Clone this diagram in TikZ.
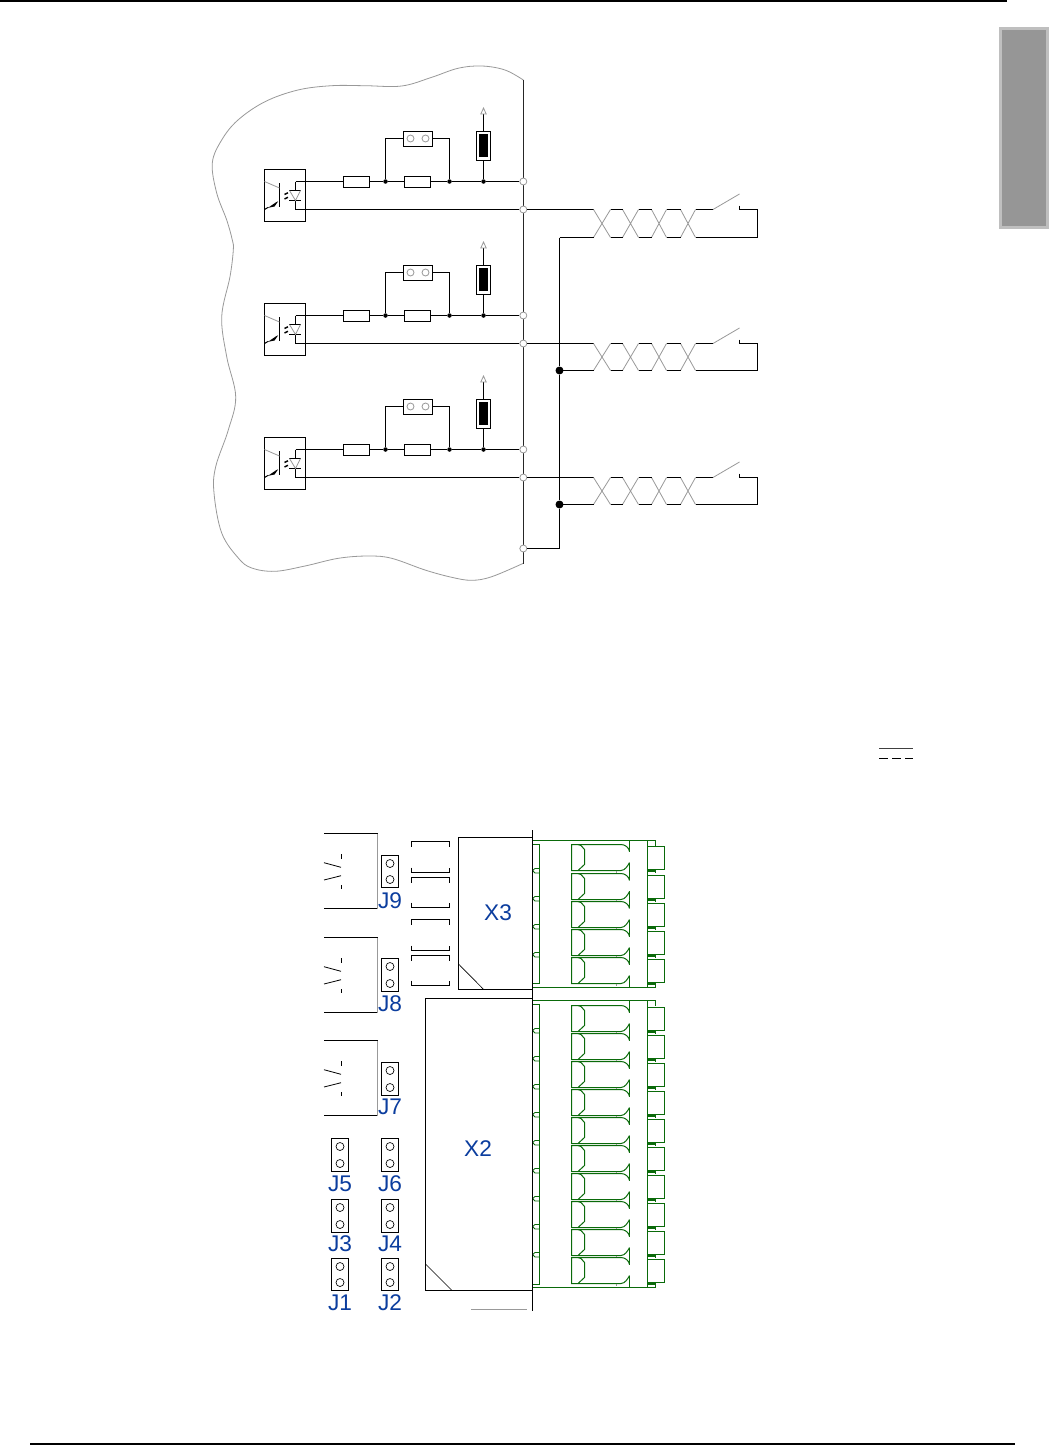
\documentclass[tikz,border=0pt]{standalone}
\usepackage{fontspec}
\setmainfont{Liberation Sans}
\definecolor{grn}{HTML}{0A6A0A}
\definecolor{lbl}{HTML}{0B3D9E}
\definecolor{gry}{HTML}{999999}
\definecolor{tabo}{HTML}{BFBFBF}
\definecolor{tabi}{HTML}{969696}
\def\px{.75pt}
\tikzset{
  wirek/.style={black,line width=.75pt},
  thing/.style={gry,line width=.6pt},
  grnl/.style={grn,line width=.75pt},
  boxn/.style={draw=black,line width=.75pt,fill=white,inner sep=0pt,outer sep=0pt},
  termn/.style={circle,draw=gry,line width=.6pt,fill=white,inner sep=0pt,minimum size=7*\px},
  pinn/.style={circle,draw=black,line width=.5pt,fill=white,inner sep=0pt,minimum size=8*\px},
  pint/.style={circle,draw=gry,line width=.6pt,fill=white,inner sep=0pt,minimum size=7*\px},
  jdot/.style={circle,fill=black,inner sep=0pt,minimum size=4.5*\px},
  bdot/.style={circle,fill=black,inner sep=0pt,minimum size=8*\px},
  lab/.style={text=lbl,inner sep=0pt,font=\fontsize{17}{18}\selectfont},
}
\newcommand{\CircUnit}[2]{%
\begin{scope}[shift={(0,#2)}]
  \node[boxn,minimum width=41*\px,minimum height=52*\px] (#1opto) at (285,195.5) {};
  \node[boxn,minimum width=26*\px,minimum height=11*\px] (#1ra) at (356.5,182) {};
  \node[boxn,minimum width=26*\px,minimum height=11*\px] (#1rb) at (417.5,182) {};
  \node[boxn,minimum width=29*\px,minimum height=15*\px] (#1link) at (418,139) {};
  \node[pint] (#1la) at (410.5,138.5) {};
  \node[pint] (#1lb) at (425.5,138.5) {};
  \node[boxn,minimum width=14*\px,minimum height=29*\px] (#1fo) at (483.5,146) {};
  \node[fill=black,inner sep=0pt,minimum width=8.5*\px,minimum height=22.5*\px] (#1fi) at (483.5,145.5) {};
  \node[jdot] (#1ja) at (385.5,181.5) {};
  \node[jdot] (#1jb) at (449.5,181.5) {};
  \node[jdot] (#1jc) at (483.5,181.5) {};
  \node[termn] (#1ta) at (523.3,181.5) {};
  \node[termn] (#1tb) at (523.3,209.5) {};
  \coordinate (#1dt) at (295.5,181.5);
  \coordinate (#1db) at (295.5,209.5);
  \coordinate (#1ca) at (385.5,138.5);
  \coordinate (#1cb) at (449.5,138.5);
  \coordinate (#1arr) at (483.5,114);
  \draw[wirek] (#1dt) -- (#1ra.west |- #1dt) (#1ra.east |- #1dt) -- (#1ja) -- (#1rb.west |- #1dt) (#1rb.east |- #1dt) -- (#1jb) -- (#1jc) -- (#1ta);
  \draw[wirek] (#1ja) -- (#1ca) -- (#1link.west |- #1ca) (#1link.east |- #1ca) -- (#1cb) -- (#1jb);
  \draw[wirek] (#1jc) -- (#1fo) (#1fo) -- (#1arr);
  \draw[wirek] (#1db) -- (#1tb);
  % opto-coupler
  \draw[wirek] (#1dt) -- (295.5,190.5) (#1db) -- (295.5,200.5);
  \draw[wirek] (289,190.5) -- (300.5,190.5) (289,200.5) -- (300.5,200.5);
  \draw[thing] (289.5,190.5) -- (295.5,200.5) -- (300.5,190.5);
  \draw[wirek] (279.5,183) -- (279.5,207);
  \draw[thing] (264.5,181.5) -- (279.5,188);
  \draw[wirek] (264.5,209.5) -- (268.3,207.3);
  \fill[black] (268,207.8) -- (276,202.3) -- (278.2,201.3) -- (274.5,206.5) -- cycle;
  \draw[black,line width=1.1pt] (284.5,194.5) -- (288,192.8) (284.5,199) -- (288,197.3);
  \draw[thing] (483.5,108) -- (480.8,114) -- (486.2,114) -- cycle;
\end{scope}}
\newcommand{\TwistPair}[3]{% name, y shift, lower wire y
\begin{scope}[shift={(0,#2)}]
  \coordinate (#1tl) at (593.5,209.5);
  \coordinate (#1bl) at (593.5,#3);
  \draw[wirek] (#1tb) -- (#1tl);
  \foreach \a/\b in {593.5/610.5,622.5/638.5,651.5/666.5,680.5/695.5}{
    \draw[thing] (\a,209.5) -- (\b,#3) (\a,#3) -- (\b,209.5);}
  \foreach \a/\b in {610.5/622.5,638.5/651.5,666.5/680.5}{
    \draw[wirek] (\a,209.5) -- (\b,209.5) (\a,#3) -- (\b,#3);}
  \coordinate (#1sw) at (713,209.5);
  \coordinate (#1st) at (739.5,194);
  \coordinate (#1ca2) at (739.5,205.5);
  \coordinate (#1cb2) at (739.5,209.5);
  \coordinate (#1cc) at (757.5,209.5);
  \coordinate (#1cd) at (757.5,#3);
  \coordinate (#1ce) at (695.5,#3);
  \coordinate (#1gnd) at (559.5,#3);
  \draw[wirek] (695.5,209.5) -- (#1sw);
  \draw[thing] (#1sw) -- (#1st);
  \draw[wirek] (#1ca2) -- (#1cb2) -- (#1cc) -- (#1cd) -- (#1ce);
  \draw[wirek] (#1gnd) -- (#1bl);
\end{scope}}
\newcommand{\RelayBlock}[1]{%
\begin{scope}[shift={(0,#1)}]
  \draw[wirek] (324,833.5) -- (377.5,833.5);
  \draw[wirek] (324,908.5) -- (377.5,908.5);
  \draw[thing,line width=.75pt] (377.5,833.5) -- (377.5,908.5);
  \draw[wirek,line width=.6pt] (341.5,854) -- (341.5,859) (341.5,885) -- (341.5,889);
  \draw[wirek,line width=.6pt] (324,862.7) -- (341,867.3) (324,880) -- (341,875.7);
\end{scope}}
\newcommand{\Jump}[6]{% name, x centre, y top, y bottom, label y, text
  \node[boxn,minimum width=17*\px,minimum height={(#4-#3)*\px}] (#1) at (#2,{(#3+#4)/2}) {};
  \node[pinn] (#1a) at (#2,{#3+8}) {};
  \node[pinn] (#1b) at (#2,{#4-8}) {};
  \node[lab] (#1t) at (#2,#5) {#6};}
\newcommand{\Bracket}[2]{% y, tick direction
  \draw[wirek] (411.5,#1+#2) -- (411.5,#1) -- (449.5,#1) -- (449.5,#1+#2);}
\newcommand{\GreenPin}[1]{%
  \draw[grnl] (621,#1) -- (571.5,#1) -- (571.5,#1+26) -- (621,#1+26) .. controls (625,#1+26) and (628,#1+21) .. (629.5,#1+18);
  \draw[grnl] (621,#1) .. controls (625,#1) and (629,#1+3) .. (629.5,#1+7);
  \draw[grnl] (578,#1) -- (581,#1+1) -- (584.5,#1+5) -- (584.5,#1+20) -- (578,#1+26);
  \draw[grnl] (647.5,#1+2) rectangle (664.5,#1+25);
  \draw[grnl,line width=1.3pt] (647.5,#1+26.5) -- (655.5,#1+26.5);
  \draw[grnl] (655.5,#1+25) -- (655.5,#1+28);
  \draw[thing] (616.5,#1+26) -- (616.5,#1+28);}
\newcommand{\GreenFlag}[1]{%
  \draw[grnl,line width=.6pt] (539.5,#1-3) -- (535,#1-3) -- (532.6,#1-1) -- (535,#1+1.5) -- (539.5,#1+1.5);}
\begin{document}
\begin{tikzpicture}[x=.75pt,y=-.75pt]
\useasboundingbox (0,0) rectangle (1049,1445);
\fill[white] (0,0) rectangle (1049,1445);
% page furniture
\draw[black,line width=2.2pt] (0,1) -- (1007,1);
\draw[black,line width=1.5pt] (30,1443.5) -- (1015,1443.5);
\fill[tabo] (999,27) rectangle (1049,229);
\fill[tabi] (1002,30) rectangle (1046,226);
% outline
\draw[gry,line width=.6pt] plot[smooth,tension=.6] coordinates {(523.3,80) (505,70) (481.7,66) (458,68.3) (431.7,77.3) (401.7,86) (365,85.7) (331.7,85.7) (298,90) (265,101.7) (238,120) (221.7,140) (212.3,163) (216.7,193) (226.7,220) (232.3,240) (233.3,250) (230,276.7) (221.7,316.7) (226.7,356.7) (235.7,396.7) (228.3,430) (215.7,466.7) (214,493) (221.7,533) (238.3,558) (251.7,568) (275,571.3) (305,566) (338.3,558.3) (368.3,556) (391.7,558.3) (425,570) (451.7,577.3) (471.7,580.3) (491.7,576.7) (523.3,563.3)};
% bus
\coordinate (bustop) at (523.5,80);
\coordinate (busbot) at (523.5,563.5);
\draw[black!85,line width=.75pt] (bustop) -- (busbot);
\CircUnit{a}{0}
\CircUnit{b}{134}
\CircUnit{c}{268}
\node[termn] (rtn) at (523.3,548.5) {};
\TwistPair{a}{0}{237.5}
\TwistPair{b}{134}{236.5}
\TwistPair{c}{268}{236.5}
\node[bdot] (db) at (559.5,370.5) {};
\node[bdot] (dc) at (559.5,504.5) {};
\coordinate (rc) at (559.5,548.5);
\draw[wirek] (agnd) -- (db) -- (dc) -- (rc) -- (rtn);
% DC symbol
\draw[black!75,line width=.9pt] (879.3,748.7) -- (913.3,748.7);
\foreach \a/\b in {879.3/888,892/901,905/913.3}{\draw[black,line width=.9pt] (\a,758.2) -- (\b,758.2);}
% lower board
\RelayBlock{0}
\RelayBlock{104}
\RelayBlock{207}
\Jump{jn}{390}{855.5}{887.5}{900.5}{J9}
\Jump{je}{390}{958.5}{991.5}{1003.5}{J8}
\Jump{js}{390}{1062.5}{1095.5}{1106.5}{J7}
\Jump{jf}{340}{1138.5}{1171.5}{1183.5}{J5}
\Jump{jx}{390}{1138.5}{1171.5}{1183.5}{J6}
\Jump{jt}{340}{1199.5}{1232.5}{1243.5}{J3}
\Jump{jq}{390}{1199.5}{1232.5}{1243.5}{J4}
\Jump{jo}{340}{1258.5}{1290.5}{1302.5}{J1}
\Jump{jw}{390}{1258.5}{1290.5}{1302.5}{J2}
\Bracket{841.5}{5}
\Bracket{872.5}{-5}
\Bracket{877.5}{5}
\Bracket{907.5}{-5}
\Bracket{919.5}{5}
\Bracket{950.5}{-5}
\Bracket{955.5}{5}
\Bracket{985.5}{-5}
% green connectors
\foreach \y in {844.5,873.5,901.5,929.5,957.5}{\GreenPin{\y}}
\foreach \y in {1005.5,1033.5,1061.5,1089.5,1117.5,1145.5,1173.5,1201.5,1229.5,1257.5}{\GreenPin{\y}}
\foreach \y in {871.5,899.5,927.5,955.5}{\GreenFlag{\y}}
\foreach \y in {1031.5,1059.5,1087.5,1115.5,1143.5,1171.5,1199.5,1227.5,1255.5}{\GreenFlag{\y}}
\foreach \y in {863,891,919.5,947.5}{\draw[grnl] (629.5,\y) -- (629.5,\y+17);}
\draw[grnl] (629.5,975.5) -- (629.5,987.5);
\foreach \y in {1023.5,1051.5,1079.5,1107.5,1135.5,1163.5,1191.5,1219.5,1247.5}{\draw[grnl] (629.5,\y) -- (629.5,\y+17);}
\draw[grnl] (629.5,1275.5) -- (629.5,1287.5);
\draw[grnl] (629.5,840.5) -- (629.5,851.5);
\draw[grnl] (629.5,1000.5) -- (629.5,1012.5);
\draw[grnl] (532.6,844.5) -- (539.5,844.5) -- (539.5,983.5) -- (532.6,983.5);
\draw[grnl] (532.6,1004.5) -- (539.5,1004.5) -- (539.5,1284.5) -- (532.6,1284.5);
\draw[grnl] (532.6,840.5) -- (655.5,840.5) -- (655.5,845.5);
\draw[grnl] (532.6,987.5) -- (655.5,987.5) -- (655.5,982.5);
\draw[grnl] (532.6,1000.5) -- (655.5,1000.5) -- (655.5,1005.5);
\draw[grnl] (532.6,1287.5) -- (655.5,1287.5) -- (655.5,1283.5);
\draw[grnl] (647.5,840.5) -- (647.5,987.5);
\draw[grnl] (647.5,1000.5) -- (647.5,1287.5);
% connector housings
\node[boxn,fill=none,minimum width=74*\px,minimum height=152*\px] (xthree) at (495.5,913.5) {};
\node[boxn,fill=none,minimum width=107*\px,minimum height=292*\px] (xtwo) at (479,1144.5) {};
\node[lab] (xthreet) at (498,913) {X3};
\node[lab] (xtwot) at (478,1149) {X2};
\draw[black,line width=.5pt] (458.5,964) -- (483.7,989.5);
\draw[black,line width=.5pt] (425.5,1264) -- (452,1290.5);
\draw[black,line width=.85pt] (532.6,830) -- (532.6,1311);
\draw[thing,line width=.75pt] (471,1309.5) -- (526.7,1309.5);
\end{tikzpicture}
\end{document}
